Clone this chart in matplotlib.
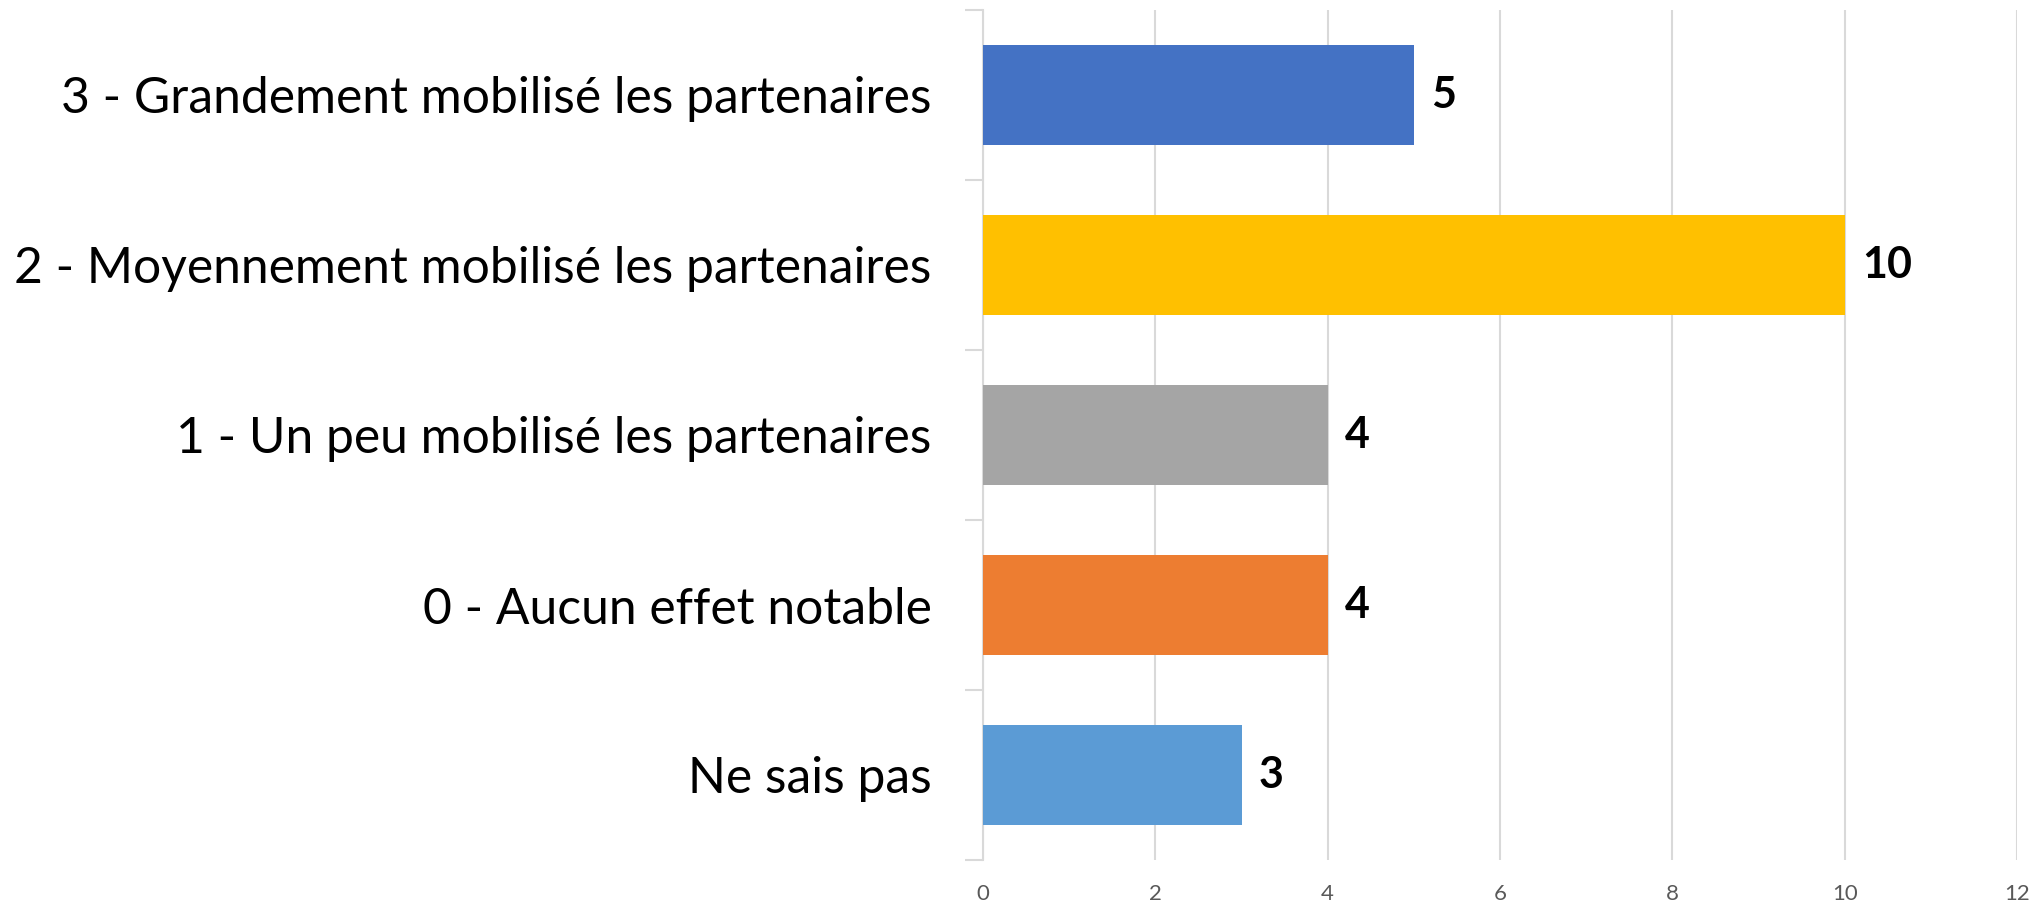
import numpy as np
import matplotlib
matplotlib.use("Agg")
from matplotlib import pyplot as plt

# données (du haut vers le bas)
categories = ["3 - Grandement mobilisé les partenaires",
              "2 - Moyennement mobilisé les partenaires",
              "1 - Un peu mobilisé les partenaires",
              "0 - Aucun effet notable",
              "Ne sais pas"]
valeurs = [5, 10, 4, 4, 3]
couleurs = ["#4472C4", "#FFC000", "#A5A5A5", "#ED7D31", "#5B9BD5"]
xticks = [0, 2, 4, 6, 8, 10, 12]

plt.rcParams['font.family'] = ['Lato', 'DejaVu Sans']

fig = plt.figure(figsize=(20.33, 9.02), dpi=100)
ax = fig.add_axes([983 / 2033, 1 - 860 / 902, (2017 - 983) / 2033, 850 / 902])

y = np.arange(len(categories))
ax.barh(y, valeurs, height=0.59, color=couleurs, zorder=3)
for yi, v in zip(y, valeurs):
    ax.text(v + 0.2, yi, str(v), va='center', ha='left',
            fontsize=31, fontweight='bold', color='black')

ax.set_xlim(0, 12)
ax.set_ylim(len(categories) - 0.5, -0.5)
ax.set_xticks(xticks)
ax.set_xticklabels([str(t) for t in xticks], fontsize=16, color='#595959')
ax.set_yticks(y)
ax.set_yticklabels(categories, fontsize=35.8, color='black')
ax.tick_params(axis='y', which='major', length=0, pad=37)
ax.tick_params(axis='x', length=0, pad=17)
# petits traits entre catégories
ax.set_yticks(np.arange(-0.5, len(categories)), minor=True)
ax.tick_params(axis='y', which='minor', length=13, color='#D9D9D9', width=1.5)

ax.grid(axis='x', color='#D9D9D9', linewidth=1.5, zorder=0)
for s in ['top', 'right', 'bottom']:
    ax.spines[s].set_visible(False)
ax.spines['left'].set_color('#D9D9D9')
ax.spines['left'].set_linewidth(1.5)

fig.savefig('out.png', dpi=100)
